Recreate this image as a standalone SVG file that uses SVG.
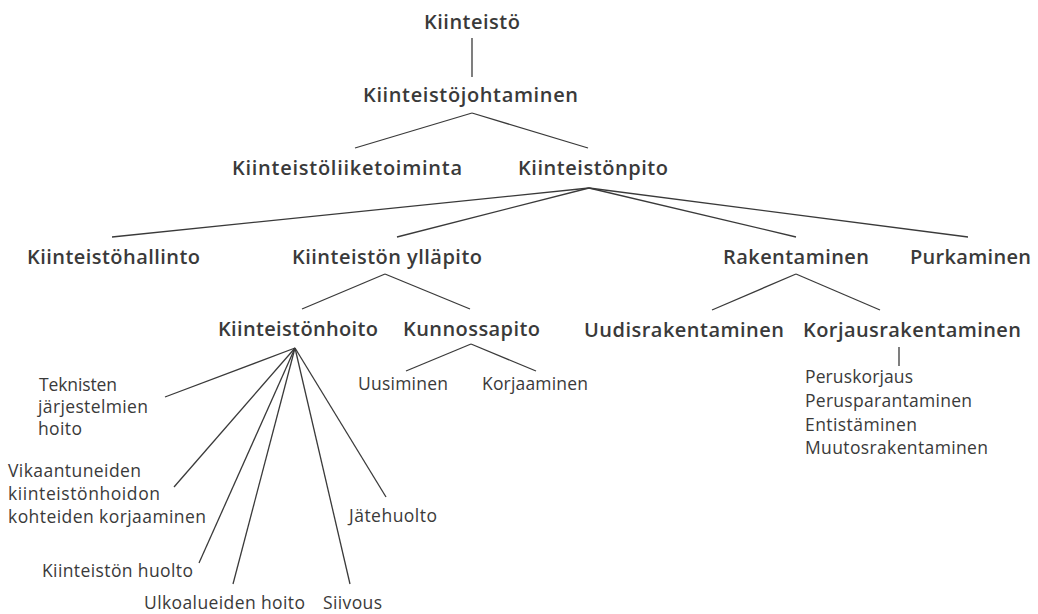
<svg xmlns="http://www.w3.org/2000/svg" width="1038" height="614" viewBox="0 0 1038 614">
<style>
.b{font-family:"Open Sans","Noto Sans","Liberation Sans",sans-serif;font-weight:600;font-size:20px;fill:#3a3a3a}
.r{font-family:"Open Sans","Noto Sans","Liberation Sans",sans-serif;font-weight:400;font-size:17.5px;fill:#3a3a3a}
.c line{stroke:#3a3a3a;stroke-width:1.3;fill:none}
</style>
<rect width="1038" height="614" fill="#ffffff"/>
<g id="connectors" class="c">
<line x1="472" y1="38" x2="472" y2="77"/>
<line x1="472" y1="113" x2="355" y2="148"/>
<line x1="472" y1="113" x2="588" y2="148"/>
<line x1="589" y1="188" x2="112" y2="237"/>
<line x1="589" y1="188" x2="397" y2="237"/>
<line x1="589" y1="188" x2="796" y2="237"/>
<line x1="589" y1="188" x2="968" y2="237"/>
<line x1="385" y1="274" x2="302" y2="309"/>
<line x1="385" y1="274" x2="470" y2="309"/>
<line x1="796" y1="274" x2="712" y2="310"/>
<line x1="796" y1="274" x2="880" y2="310"/>
<line x1="471" y1="344" x2="406" y2="371"/>
<line x1="471" y1="344" x2="536" y2="371"/>
<line x1="899" y1="347" x2="899" y2="366"/>
<line x1="295" y1="348" x2="165" y2="397"/>
<line x1="295" y1="348" x2="174" y2="487"/>
<line x1="295" y1="348" x2="199" y2="563"/>
<line x1="295" y1="348" x2="233" y2="584"/>
<line x1="295" y1="348" x2="350" y2="584"/>
<line x1="295" y1="348" x2="386" y2="497"/>
</g>
<g id="n-kiinteisto"><text class="b" x="424" y="29" textLength="96">Kiinteistö</text></g>
<g id="n-johtaminen"><text class="b" x="363" y="102" textLength="215">Kiinteistöjohtaminen</text></g>
<g id="n-liiketoiminta"><text class="b" x="232" y="175" textLength="230">Kiinteistöliiketoiminta</text></g>
<g id="n-pito"><text class="b" x="518" y="175" textLength="150">Kiinteistönpito</text></g>
<g id="n-hallinto"><text class="b" x="27" y="264" textLength="173">Kiinteistöhallinto</text></g>
<g id="n-yllapito"><text class="b" x="292" y="264" textLength="190">Kiinteistön ylläpito</text></g>
<g id="n-rakentaminen"><text class="b" x="723" y="264" textLength="146">Rakentaminen</text></g>
<g id="n-purkaminen"><text class="b" x="910" y="264" textLength="121">Purkaminen</text></g>
<g id="n-hoito"><text class="b" x="218" y="336" textLength="160">Kiinteistönhoito</text></g>
<g id="n-kunnossapito"><text class="b" x="403" y="336" textLength="137">Kunnossapito</text></g>
<g id="n-uudis"><text class="b" x="584" y="337" textLength="200">Uudisrakentaminen</text></g>
<g id="n-korjaus"><text class="b" x="803" y="337" textLength="218">Korjausrakentaminen</text></g>
<g id="n-uusiminen"><text class="r" x="358" y="390" textLength="90">Uusiminen</text></g>
<g id="n-korjaaminen"><text class="r" x="482" y="390" textLength="106">Korjaaminen</text></g>
<g id="n-korjaus-list">
<text class="r" x="805" y="383" textLength="108">Peruskorjaus</text>
<text class="r" x="805" y="407" textLength="167">Perusparantaminen</text>
<text class="r" x="805" y="431" textLength="112">Entistäminen</text>
<text class="r" x="805" y="454" textLength="183">Muutosrakentaminen</text>
</g>
<g id="n-teknisten">
<text class="r" x="39" y="391" textLength="78">Teknisten</text>
<text class="r" x="38" y="413" textLength="110">järjestelmien</text>
<text class="r" x="38" y="435" textLength="44">hoito</text>
</g>
<g id="n-vikaantuneiden">
<text class="r" x="8" y="477" textLength="133">Vikaantuneiden</text>
<text class="r" x="8" y="500" textLength="152">kiinteistönhoidon</text>
<text class="r" x="8" y="523" textLength="198">kohteiden korjaaminen</text>
</g>
<g id="n-huolto"><text class="r" x="42" y="577" textLength="151">Kiinteistön huolto</text></g>
<g id="n-ulkoalueiden"><text class="r" x="144" y="609" textLength="161">Ulkoalueiden hoito</text></g>
<g id="n-siivous"><text class="r" x="323" y="609" textLength="59">Siivous</text></g>
<g id="n-jatehuolto"><text class="r" x="349" y="522" textLength="88">Jätehuolto</text></g>
</svg>
